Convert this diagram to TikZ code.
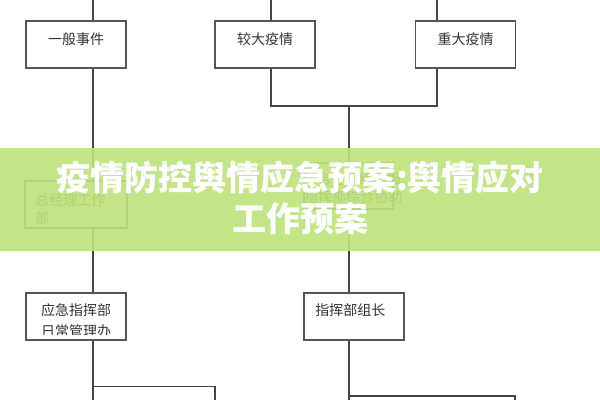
\documentclass[tikz,border=0pt]{standalone}
\usepackage{fontspec}
\newfontfamily\cjk{Noto Sans CJK SC}
\definecolor{lineg}{HTML}{444444}
\definecolor{boxg}{HTML}{555555}
\definecolor{txtg}{HTML}{333333}
\definecolor{banner}{HTML}{BEE27A}
\begin{document}
\begin{tikzpicture}[x=0.75pt,y=-0.75pt,
  box/.style={draw=boxg,line width=0.9pt,fill=white,inner sep=0pt,minimum width=75pt,minimum height=35.25pt},
  wire/.style={draw=lineg,line width=0.8pt},
  btxt/.style={font=\cjk\fontsize{10.5}{14}\selectfont,text=txtg,inner sep=0pt},
  ttl/.style={font=\cjk\bfseries\fontsize{25.5}{32}\selectfont,text=white,inner sep=0pt}]
\useasboundingbox (0,0) rectangle (600,400);
% top row boxes
\node[box] (b1) at (76,44.5) {};
\node[box] (b2) at (265,44.5) {};
\node[box] (b3) at (465.5,44.5) {};
\coordinate (t1) at (93,0);
\coordinate (t2) at (271,0);
\coordinate (t3) at (437,0);
\coordinate (j2) at (271,106);
\coordinate (j3) at (437,106);
\coordinate (jm) at (349,106);
% second row
\node[box,minimum width=76.5pt] (m1) at (76,204.5) {};
\node[box,minimum width=66.75pt,minimum height=34.5pt] (m2) at (348.5,186) {};
% third row
\node[box] (c1) at (76,316.5) {};
\node[box] (c2) at (354,316.5) {};
\coordinate (e1) at (93,400);
\coordinate (h1) at (93,386.5);
\coordinate (h1r) at (215,386.5);
\coordinate (h1d) at (215,400);
\coordinate (e2) at (349,400);
\coordinate (h2) at (349,396);
\coordinate (h2r) at (515,396);
\coordinate (h2d) at (515,400);
% wires
\draw[wire] (t1) -- (t1 |- b1.north);
\draw[wire] (t2) -- (t2 |- b2.north);
\draw[wire] (t3) -- (t3 |- b3.north);
\draw[wire] (t1 |- b1.south) -- (t1 |- m1.north);
\draw[wire] (t1 |- m1.south) -- (t1 |- c1.north);
\draw[wire] (t1 |- c1.south) -- (e1);
\draw[wire] (t2 |- b2.south) -- (j2) -- (j3) -- (t3 |- b3.south);
\draw[wire] (jm) -- (jm |- m2.north);
\draw[wire] (jm |- m2.south) -- (jm |- c2.north);
\draw[wire] (jm |- c2.south) -- (e2);
\draw[wire] (h1) -- (h1r) -- (h1d);
\draw[wire] (h2) -- (h2r) -- (h2d);
% texts
\node[btxt] (tx1) at (76,39) {一般事件};
\node[btxt] (tx2) at (265,39) {较大疫情};
\node[btxt] (tx3) at (465.5,39) {重大疫情};
\node[btxt,anchor=west] (tx4) at (35,200) {总经理工作};
\node[btxt,anchor=west] (tx5) at (35,218) {部};
\node[btxt,anchor=west] (tx6) at (303,179) {综合协调组上报};
\node[btxt,anchor=west] (tx7) at (304,197) {指挥部综合协助};
\node[btxt,anchor=west] (tx8) at (315,310) {指挥部组长};
\begin{scope}
\clip (27,294) rectangle (125,334);
\node[btxt] (tx9) at (76,310) {应急指挥部};
\node[btxt] (tx10) at (76,331) {日常管理办};
\end{scope}
% banner
\fill[banner,fill opacity=0.9] (0,148) rectangle (600,251);
\node[ttl] (title1) at (300,178) {疫情防控舆情应急预案:舆情应对};
\node[ttl] (title2) at (300,219) {工作预案};
\end{tikzpicture}
\end{document}
